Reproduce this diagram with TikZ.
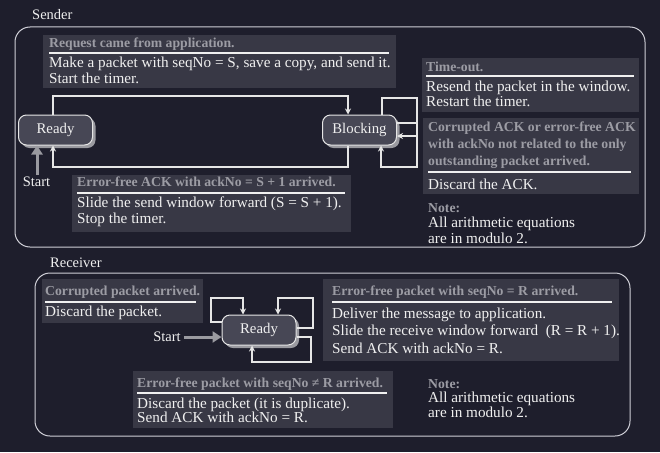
\documentclass[tikz,border=0pt]{standalone}
\usepackage{fontspec}
\setmainfont{Liberation Serif}
\usetikzlibrary{arrows.meta,shadows}
\definecolor{bg}{HTML}{1E1E2C}
\definecolor{boxfill}{HTML}{383845}
\definecolor{nodefill}{HTML}{474755}
\definecolor{hdr}{HTML}{9C9CA4}
\definecolor{txt}{HTML}{F0F0F0}
\definecolor{edge}{HTML}{E6E6E6}
\definecolor{frame}{HTML}{D0D0D8}
\definecolor{startc}{HTML}{9A9AA0}
\tikzset{
  infobox/.style={fill=boxfill, draw=none, inner sep=0pt, anchor=north west},
  hdrtext/.style={anchor=mid west, inner sep=0pt, yshift=-2pt, text=hdr, font=\fontsize{13.7}{15}\selectfont\bfseries},
  bodytext/.style={anchor=mid west, inner sep=0pt, yshift=-2pt, text=txt, font=\fontsize{15.2}{16}\selectfont},
  rulel/.style={draw=txt, line width=1.1pt},
  state/.style={draw=edge, line width=1pt, fill=nodefill, rounded corners=8pt, minimum width=74pt, minimum height=30pt, inner sep=0pt, text=txt, font=\fontsize{14.8}{16}\selectfont, drop shadow={shadow xshift=3pt, shadow yshift=-3pt, fill=startc, opacity=1}},
  conn/.style={draw=edge, line width=1.4pt, -{Stealth[length=6pt,width=6pt]}},
  startarrow/.style={draw=startc, line width=3pt, -{Triangle[length=9pt,width=11pt]}},
  framebox/.style={draw=frame, line width=1pt, rounded corners=15pt},
  label/.style={anchor=mid west, inner sep=0pt, yshift=-2pt, text=txt, font=\fontsize{14.5}{16}\selectfont},
  startlabel/.style={anchor=center, inner sep=0pt, text=txt, font=\fontsize{14.5}{16}\selectfont},
}
\begin{document}
\begin{tikzpicture}[x=1pt,y=-1pt]
\useasboundingbox (0,0) rectangle (660,452);
\fill[bg] (0,0) rectangle (660,452);

% ---------------- Sender ----------------
\node[label] (senderlbl) at (32,15) {Sender};
\draw[framebox] (15,27) rectangle (645,247);

\node[infobox, minimum width=353pt, minimum height=53pt] (b1) at (43,35) {};
\node[hdrtext] (b1h) at (49,43) {Request came from application.};
\draw[rulel] (49,53) -- (389,53);
\node[bodytext] (b1a) at (49,63) {Make a packet with seqNo = S, save a copy, and send it.};
\node[bodytext] (b1b) at (49,79) {Start the timer.};

\node[infobox, minimum width=279pt, minimum height=57pt] (b2) at (72,175) {};
\node[hdrtext] (b2h) at (77,182) {Error-free ACK with ackNo = S + 1 arrived.};
\draw[rulel] (77,193) -- (345,193);
\node[bodytext] (b2a) at (77,203) {Slide the send window forward (S = S + 1).};
\node[bodytext] (b2b) at (77,219) {Stop the timer.};

\node[infobox, minimum width=217pt, minimum height=54pt] (b3) at (422,58) {};
\node[hdrtext] (b3h) at (426,67) {Time-out.};
\draw[rulel] (426,76) -- (634,76);
\node[bodytext] (b3a) at (426,87) {Resend the packet in the window.};
\node[bodytext] (b3b) at (426,102) {Restart the timer.};

\node[infobox, minimum width=216pt, minimum height=76pt] (b4) at (423,118) {};
\node[hdrtext] (b4h1) at (428,127) {Corrupted ACK or error-free ACK};
\node[hdrtext] (b4h2) at (428,144) {with ackNo not related to the only};
\node[hdrtext] (b4h3) at (428,161) {outstanding packet arrived.};
\draw[rulel] (428,172) -- (631,172);
\node[bodytext] (b4a) at (428,185) {Discard the ACK.};

\node[hdrtext] (n1h) at (428,208) {Note:};
\node[bodytext] (n1a) at (428,223) {All arithmetic equations};
\node[bodytext] (n1b) at (428,239) {are in modulo 2.};

\node[state] (sready) at (55.5,130) {Ready};
\node[state] (sblock) at (359.5,130) {Blocking};

\draw[conn] ([xshift=-2.5pt]sready.north) |- (348,96) -- ([xshift=-11.5pt]sblock.north);
\draw[conn] ([xshift=-11.5pt]sblock.south) |- (53,167) -- ([xshift=-2.5pt]sready.south);
\draw[conn] ([xshift=22.5pt]sblock.north) |- (417,98) |- ([yshift=-6pt]sblock.east);
\draw[conn] ([yshift=7pt]sblock.east) -| (417,167) -| ([xshift=21.5pt]sblock.south);

\node[startlabel] (sstart) at (36.5,182) {Start};
\draw[startarrow] ([xshift=0.5pt,yshift=2pt]sstart.north) -- ([xshift=-18.5pt]sready.south);

% ---------------- Receiver ----------------
\node[label] (recvlbl) at (50,263) {Receiver};
\draw[framebox] (35,273) rectangle (630,436);

\node[infobox, minimum width=161pt, minimum height=44pt] (b5) at (42,279) {};
\node[hdrtext] (b5h) at (45,291) {Corrupted packet arrived.};
\draw[rulel] (45,302) -- (196,302);
\node[bodytext] (b5a) at (45,312) {Discard the packet.};

\node[infobox, minimum width=296pt, minimum height=82pt] (b6) at (323,279) {};
\node[hdrtext] (b6h) at (332,291) {Error-free packet with seqNo = R arrived.};
\draw[rulel] (332,302) -- (612,302);
\node[bodytext] (b6a) at (332,314) {Deliver the message to application.};
\node[bodytext] (b6b) at (332,331) {Slide the receive window forward \ (R = R + 1).};
\node[bodytext] (b6c) at (332,349) {Send ACK with ackNo = R.};

\node[infobox, minimum width=260pt, minimum height=57pt] (b7) at (133,371) {};
\node[hdrtext] (b7h) at (137,383) {Error-free packet with seqNo ≠ R arrived.};
\draw[rulel] (137,393) -- (387,393);
\node[bodytext] (b7a) at (137,404) {Discard the packet (it is duplicate).};
\node[bodytext] (b7b) at (137,418) {Send ACK with ackNo = R.};

\node[hdrtext] (n2h) at (428,384) {Note:};
\node[bodytext] (n2a) at (428,398) {All arithmetic equations};
\node[bodytext] (n2b) at (428,413) {are in modulo 2.};

\node[state] (rready) at (259,330) {Ready};

\draw[conn] ([yshift=8pt]rready.west) -| (211,298) -| ([xshift=-16pt]rready.north);
\draw[conn] ([yshift=2pt]rready.east) -| (313,298) -| ([xshift=19pt]rready.north);
\draw[conn] ([yshift=-7pt]rready.east) -| (311,362) -| ([xshift=-7pt]rready.south);

\node[startlabel] (rstart) at (167,337) {Start};
\draw[startarrow] ([xshift=3pt]rstart.east) -- ([yshift=-7pt]rready.west);
\end{tikzpicture}
\end{document}
